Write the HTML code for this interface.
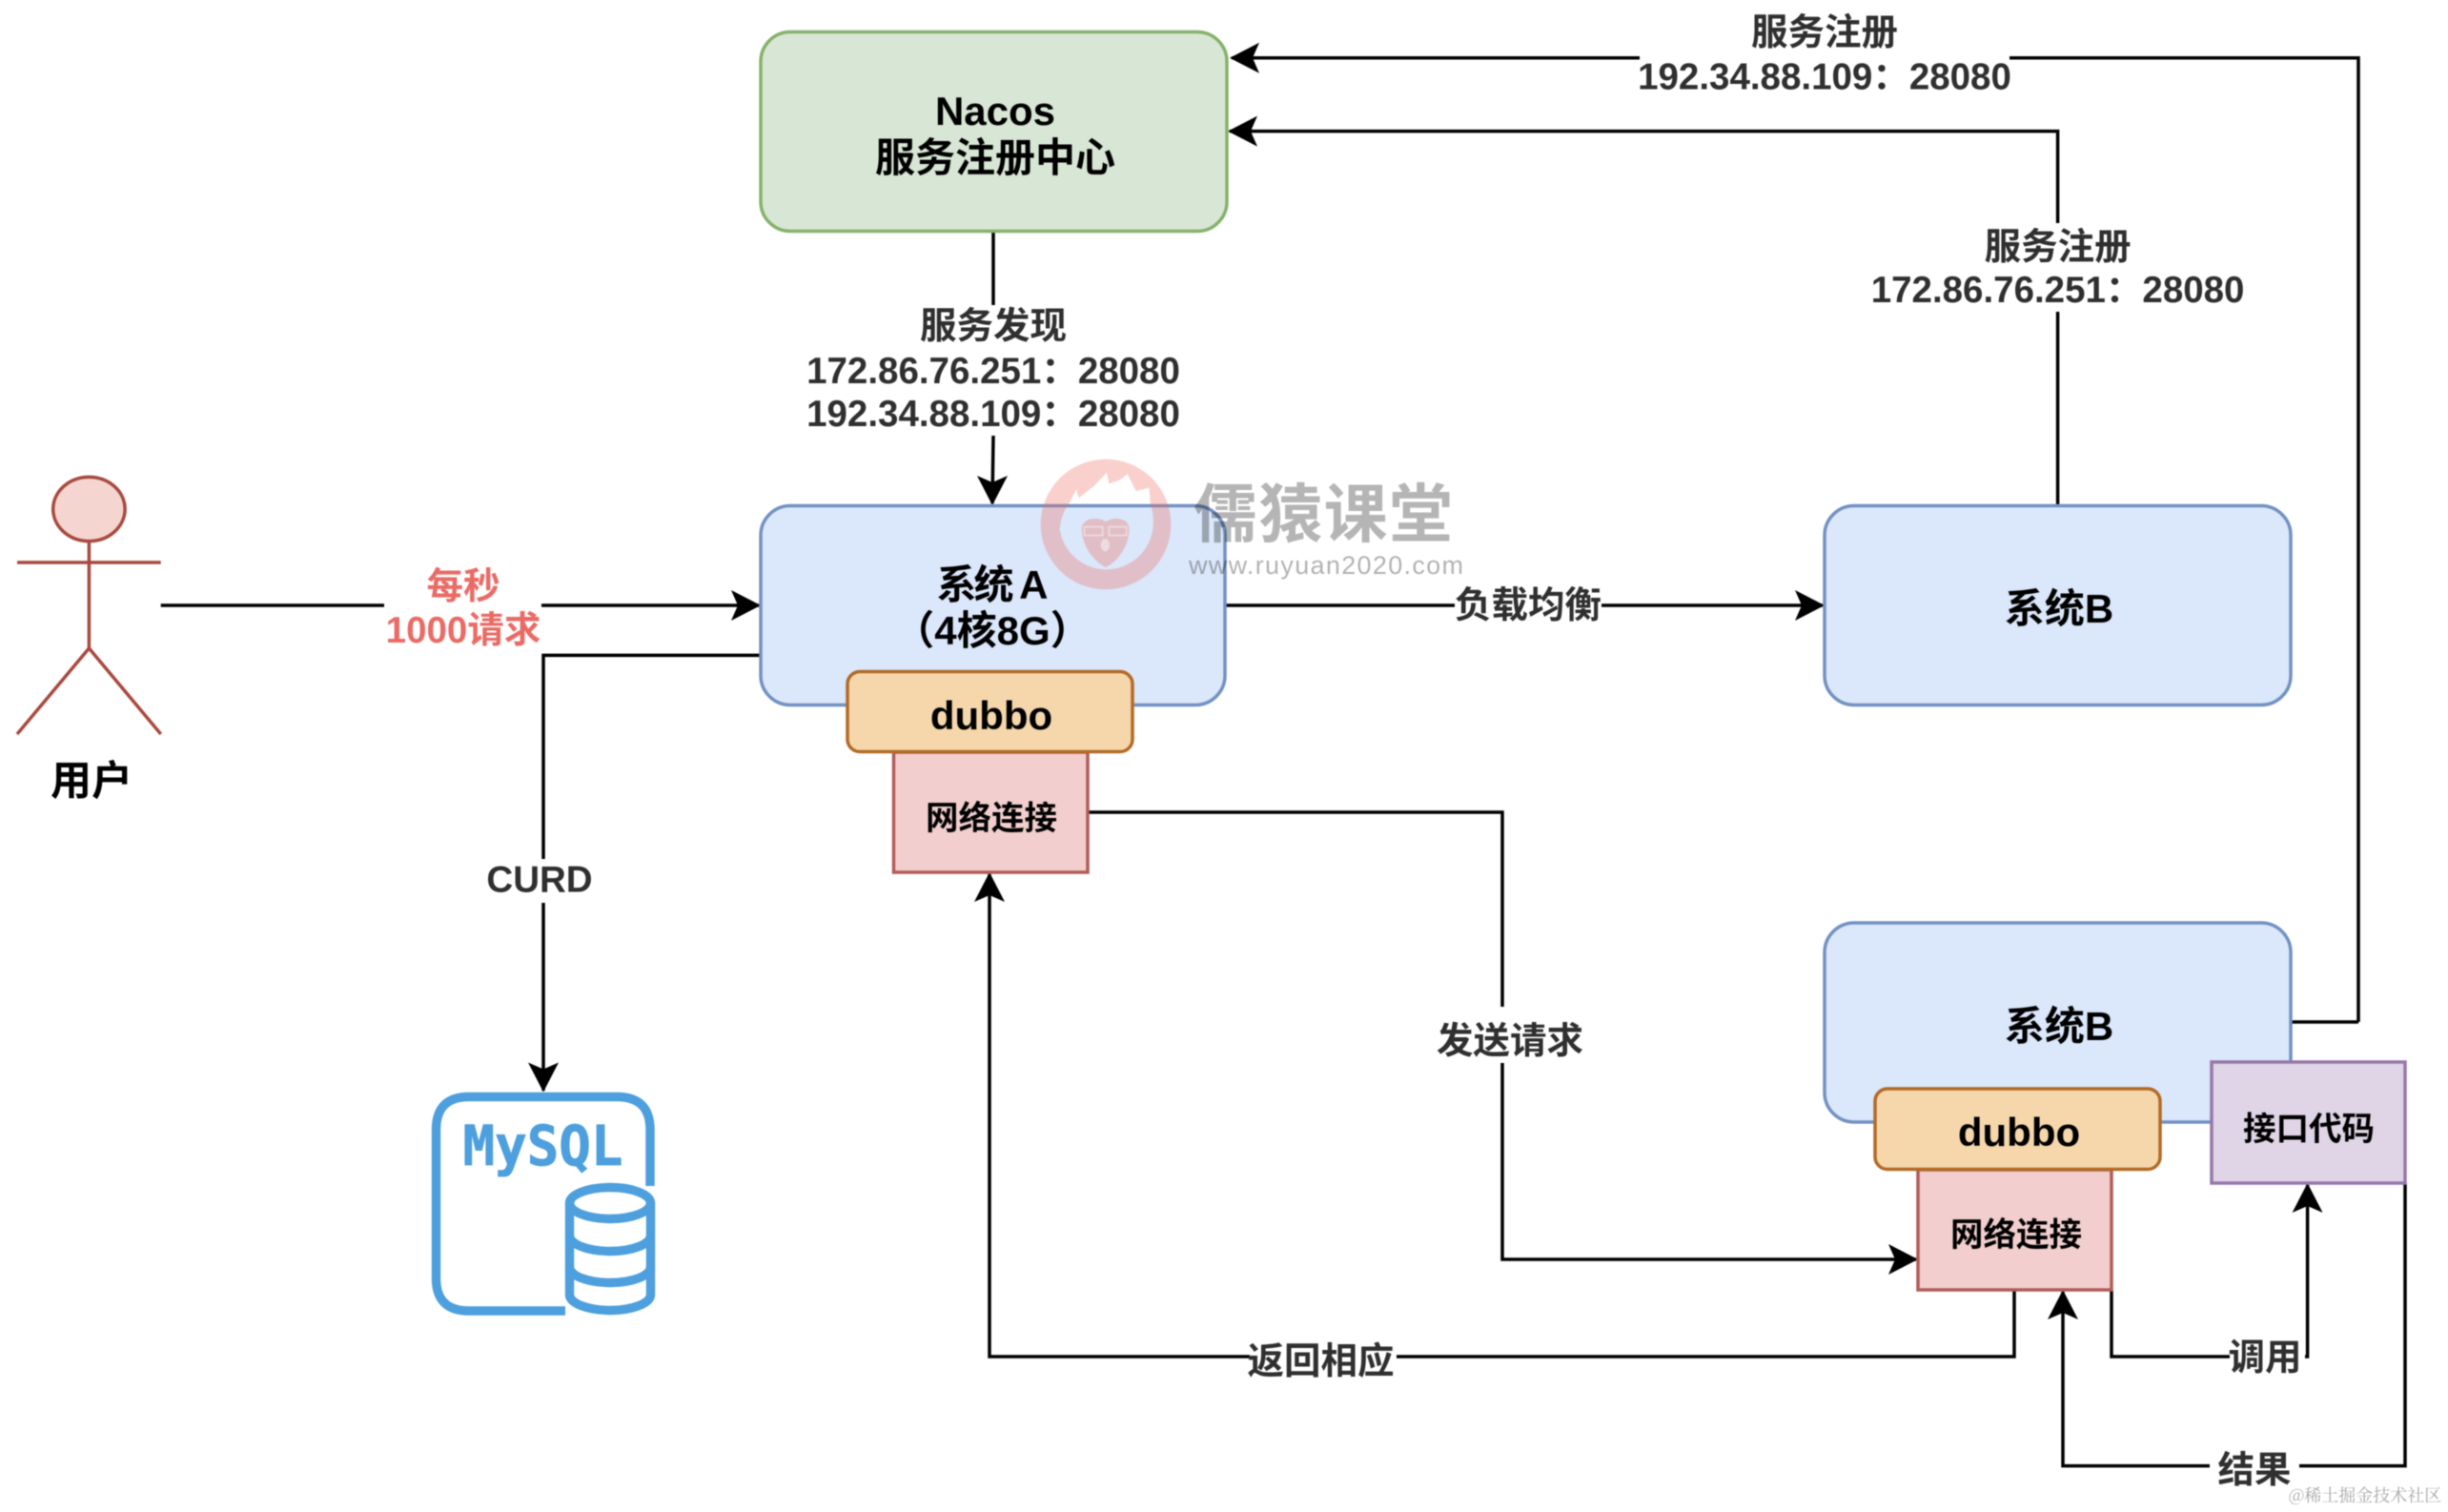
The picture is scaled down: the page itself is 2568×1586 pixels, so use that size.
<!DOCTYPE html>
<html><head><meta charset="utf-8"><style>
html,body{margin:0;padding:0;background:#fff}
svg{display:block;filter:blur(.5px)}
text{font-family:"Liberation Sans","Noto Sans CJK SC",sans-serif;font-weight:bold;text-anchor:middle}
.b{font-size:42px;fill:#000}
.n{font-size:34.5px;fill:#000}
.e{font-size:38.5px;fill:#2f2f2f}
.r{font-size:38.5px;fill:#ea6b66}
.l{fill:none;stroke:#000;stroke-width:3.5}
</style></head><body>
<svg xmlns="http://www.w3.org/2000/svg" width="2568" height="1586" viewBox="0 0 2568 1586">
<rect width="2568" height="1586" fill="#fff"/>

<!-- connectors behind -->
<g class="l">
<path d="M1042 243V320M1042 457L1041 528" class="l"/>
<path d="M2474 1072H2403M2474 1072V60.7H2108M1720 60.7H1292" class="l"/>
<path d="M2158.6 530V327M2158.6 234V137.6H1290" class="l"/>
<path d="M798 687.4H570V901M570 947V1144" class="l"/>
<path d="M1141 852H1576V1056M1576 1115V1321H2010" class="l"/>
<path d="M2113 1353V1423H1465M1311 1423H1038V917" class="l"/>
<path d="M2215 1353V1423H2339M2418 1423H2420.6V1243" class="l"/>
<path d="M2523 1241V1537.6H2412M2318 1537.6H2164V1355" class="l"/>
<path d="M168.7 635H403M568 635H796" class="l"/>
<path d="M1285 635H1526M1680 635H1912" class="l"/>
</g>
<path d="M798 635l-31-16 7 16-7 16Z" fill="#000"/>
<path d="M1914 635l-31-16 7 16-7 16Z" fill="#000"/>
<path d="M1041 530l-16-31 16 7 16-7Z" fill="#000"/>
<path d="M570 1145.5l-16-31 16 7 16-7Z" fill="#000"/>
<path d="M1290 60.7l31-16-7 16 7 16Z" fill="#000"/>
<path d="M1288 137.6l31-16-7 16 7 16Z" fill="#000"/>
<path d="M2012 1321l-31-16 7 16-7 16Z" fill="#000"/>
<path d="M1038 915l-16 31 16-7 16 7Z" fill="#000"/>
<path d="M2164 1353l-16 31 16-7 16 7Z" fill="#000"/>
<path d="M2420.6 1241l-16 31 16-7 16 7Z" fill="#000"/>

<!-- boxes -->
<rect x="798" y="33.5" width="489" height="209" rx="31" fill="#d8e7d5" stroke="#86b26b" stroke-width="3.5"/>
<rect x="798" y="530.5" width="487" height="209" rx="31" fill="#dbe7fa" stroke="#7292c2" stroke-width="3.5"/>
<rect x="1914" y="530.5" width="489" height="209" rx="31" fill="#dbe7fa" stroke="#7292c2" stroke-width="3.5"/>
<rect x="1914" y="968" width="489" height="209" rx="31" fill="#dbe7fa" stroke="#7292c2" stroke-width="3.5"/>

<rect x="937.5" y="789" width="203.5" height="126" fill="#f2cfce" stroke="#b25c58" stroke-width="3.5"/>
<rect x="889" y="704.5" width="299" height="84" rx="13" fill="#f5d7ab" stroke="#b46a26" stroke-width="3.5"/>
<rect x="2012" y="1227" width="203" height="126" fill="#f2cfce" stroke="#b25c58" stroke-width="3.5"/>
<rect x="1967" y="1142" width="299" height="84.5" rx="13" fill="#f5d7ab" stroke="#b46a26" stroke-width="3.5"/>
<rect x="2320" y="1114" width="203" height="127" fill="#e0d5e6" stroke="#9678aa" stroke-width="3.5"/>

<!-- actor -->
<g fill="none" stroke="#a8493e" stroke-width="3.5">
<ellipse cx="93.4" cy="534" rx="37.7" ry="33.6" fill="#f5d5d0"/>
<path d="M93.4 567.5V680M18 590H168.7M18 770L93.4 680L168.7 770"/>
</g>

<!-- MySQL icon -->
<g fill="none" stroke="#4d9fdd" stroke-width="9.4">
<path d="M682 1244V1185Q682 1150.5 647 1150.5H492Q457.5 1150.5 457.5 1185V1341Q457.5 1375 492 1375H593"/>
<ellipse cx="640" cy="1262" rx="42.5" ry="16.5"/>
<path d="M597.5 1262V1358A42.5 16.5 0 0 0 682.5 1358V1262"/>
<path d="M597.5 1296A42.5 16.5 0 0 0 682.5 1296M597.5 1329A42.5 16.5 0 0 0 682.5 1329"/>
</g>
<text x="569.5" y="1222" textLength="168" lengthAdjust="spacingAndGlyphs" style='font-family:"DejaVu Sans Mono",monospace;font-size:58px;fill:#4d9fdd;stroke:#4d9fdd;stroke-width:.8'>MySQL</text>

<!-- labels -->
<text class="b" x="1044" y="131">Nacos</text>
<text class="b" x="1044" y="180">服务注册中心</text>
<text class="e" x="1042" y="355">服务发现</text>
<text class="e" x="1042" y="402">172.86.76.251：28080</text>
<text class="e" x="1042" y="447">192.34.88.109：28080</text>
<text class="e" x="1914" y="47">服务注册</text>
<text class="e" x="1914" y="93.5">192.34.88.109：28080</text>
<text class="e" x="2158.6" y="272">服务注册</text>
<text class="e" x="2158.6" y="317">172.86.76.251：28080</text>
<text class="e" x="1603" y="648">负载均衡</text>
<text class="r" x="486" y="628">每秒</text>
<text class="r" x="486" y="674">1000请求</text>
<text class="b" x="1041" y="628" textLength="117" lengthAdjust="spacing">系统 A</text>
<text class="b" x="1041" y="676">（4核8G）</text>
<text class="b" x="1040" y="765">dubbo</text>
<text class="n" x="1040" y="870">网络连接</text>
<text class="b" x="2160" y="653">系统B</text>
<text class="b" x="2160" y="1091">系统B</text>
<text class="b" x="2118" y="1202">dubbo</text>
<text class="n" x="2115" y="1307">网络连接</text>
<text class="n" x="2422" y="1196">接口代码</text>
<text class="e" x="1385.5" y="1441">返回相应</text>
<text class="e" x="1584" y="1105">发送请求</text>
<text class="e" x="2376" y="1437">调用</text>
<text class="e" x="2365" y="1555">结果</text>
<text class="e" x="566" y="935.5">CURD</text>
<text x="96" y="834" style="font-size:43px;fill:#000">用户</text>

<!-- watermark -->
<g transform="translate(1060 460) scale(.33333)">
<path fill-rule="evenodd" fill="rgba(238,100,90,.3)" d="M95 270a205 205 0 1 0 410 0a205 205 0 1 0 -410 0ZM155 285C160 240 175 215 190 195L207 160L215 187L262 150L303 108L310 142L345 130L368 112L395 165L437 155L440 205C448 225 452 260 448 285A148 148 0 0 1 155 285Z"/>
<path fill="rgba(238,100,90,.32)" d="M225 275C235 250 275 245 300 262C325 245 365 250 372 275C380 320 345 385 300 405C255 385 218 320 225 275Z"/>
<path fill="none" stroke="rgba(255,255,255,.4)" stroke-width="6" d="M232 278H290V305H232ZM310 278H365V305H310Z"/>
<ellipse cx="298" cy="335" rx="14" ry="20" fill="rgba(255,255,255,.45)"/>
</g>
<text x="1388" y="563" textLength="272" lengthAdjust="spacing" style="font-size:67px;fill:rgba(0,0,0,.29)">儒猿课堂</text>
<text x="1391" y="602" textLength="288" lengthAdjust="spacing" style="font-size:27px;font-weight:normal;fill:rgba(0,0,0,.3)">www.ruyuan2020.com</text>
<text x="2481" y="1575" style='font-family:"Noto Serif CJK SC",serif;font-size:18px;font-weight:normal;fill:#a8a8a8'>@稀土掘金技术社区</text>
</svg>
</body></html>
